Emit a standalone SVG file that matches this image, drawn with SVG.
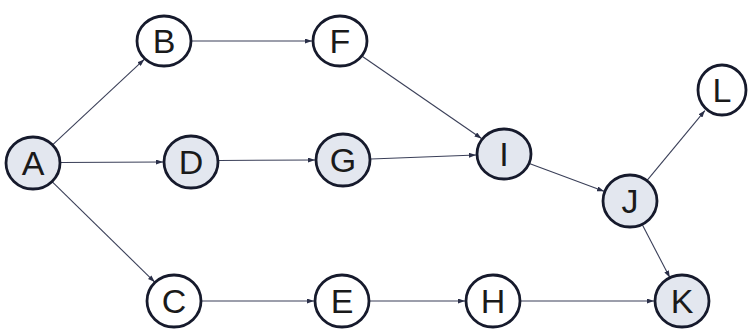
<svg xmlns="http://www.w3.org/2000/svg" width="748" height="333" viewBox="0 0 748 333">
<defs>
<style>
.n ellipse{stroke:#161a2c;stroke-width:2.8;fill:#ffffff}
.n.s ellipse{fill:#e3e7ef}
.n text{font-family:"Liberation Sans",Arial,sans-serif;font-size:34px;fill:#1a1a1a;text-anchor:middle}
.e line{stroke:#3a3f58;stroke-width:1.1;marker-end:url(#ah)}
</style>
<marker id="ah" markerUnits="userSpaceOnUse" markerWidth="7" markerHeight="5" refX="7" refY="2.5" orient="auto">
<path d="M0,0 L7,2.5 L0,5 z" fill="#2a2f48"/>
</marker>
</defs>
<rect width="748" height="333" fill="#ffffff"/>
<g id="edges" class="e">
<line x1="52.8" y1="144.6" x2="144.2" y2="59.4"/>
<line x1="61" y1="162.5" x2="163" y2="162"/>
<line x1="52.3" y1="181.9" x2="154.7" y2="282.1"/>
<line x1="192" y1="41" x2="312" y2="41"/>
<line x1="219" y1="160.5" x2="315" y2="160"/>
<line x1="371" y1="159" x2="476" y2="155"/>
<line x1="362.5" y1="56.5" x2="481.5" y2="138.5"/>
<line x1="530" y1="163.7" x2="604" y2="191.3"/>
<line x1="647.1" y1="180.4" x2="704.9" y2="110.6"/>
<line x1="642.2" y1="224.4" x2="669.8" y2="277.6"/>
<line x1="202" y1="301" x2="314" y2="301"/>
<line x1="370" y1="301" x2="465" y2="301"/>
<line x1="521" y1="301" x2="654" y2="301"/>
</g>
<g id="A" class="n s"><ellipse cx="33" cy="163" rx="27" ry="26"/><text x="33" y="175">A</text></g>
<g id="B" class="n"><ellipse cx="164" cy="41" rx="27" ry="25"/><text x="164" y="53">B</text></g>
<g id="F" class="n"><ellipse cx="340" cy="41" rx="27" ry="25"/><text x="340" y="53">F</text></g>
<g id="D" class="n s"><ellipse cx="191" cy="162" rx="27" ry="26"/><text x="191" y="174">D</text></g>
<g id="G" class="n s"><ellipse cx="343" cy="160" rx="27" ry="26"/><text x="343" y="172">G</text></g>
<g id="I" class="n s"><ellipse cx="504" cy="154" rx="27" ry="25"/><text x="504" y="166">I</text></g>
<g id="J" class="n s"><ellipse cx="630" cy="201" rx="27" ry="26"/><text x="630" y="213">J</text></g>
<g id="L" class="n"><ellipse cx="722" cy="90" rx="24" ry="25"/><text x="722" y="102">L</text></g>
<g id="C" class="n"><ellipse cx="174" cy="301" rx="27" ry="26"/><text x="174" y="313">C</text></g>
<g id="E" class="n"><ellipse cx="342" cy="301" rx="27" ry="26"/><text x="342" y="313">E</text></g>
<g id="H" class="n"><ellipse cx="493" cy="301" rx="27" ry="26"/><text x="493" y="313">H</text></g>
<g id="K" class="n s"><ellipse cx="682" cy="301" rx="27" ry="26"/><text x="682" y="313">K</text></g>
</svg>
